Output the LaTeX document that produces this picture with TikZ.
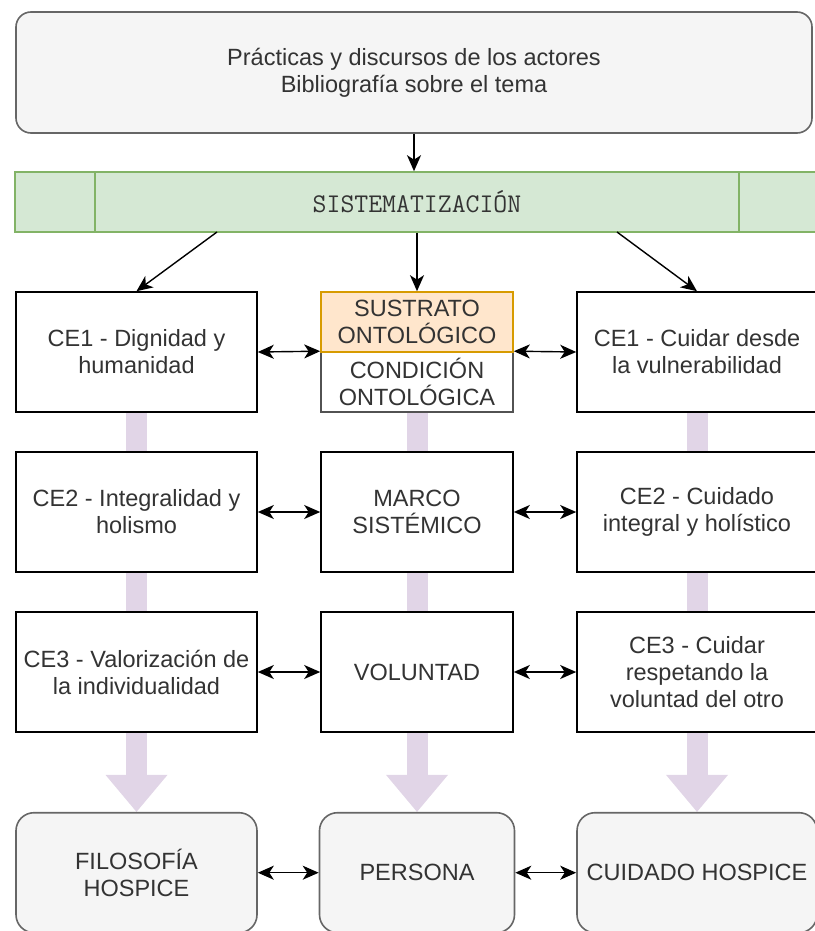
\documentclass[tikz,border=0pt]{standalone}
\usepackage{fontspec}
\setmainfont{Liberation Sans}
\usetikzlibrary{arrows.meta}
\pgfdeclarelayer{background}
\pgfsetlayers{background,main}
\definecolor{txt}{HTML}{333333}
\definecolor{softfill}{HTML}{F5F5F5}
\definecolor{softline}{HTML}{666666}
\definecolor{barfill}{HTML}{D5E8D4}
\definecolor{barline}{HTML}{82B366}
\definecolor{orfill}{HTML}{FFE6CC}
\definecolor{orline}{HTML}{D79B00}
\definecolor{lilac}{HTML}{E1D5E7}
\begin{document}
\begin{tikzpicture}[x=1pt,y=-1pt,
  every node/.style={font=\fontsize{23.5}{27}\selectfont, text=txt, align=center, inner sep=0pt},
  plain/.style={draw=black, fill=white, line width=1.6pt, minimum height=120pt},
  soft/.style={draw=softline, fill=softfill, line width=1.6pt, rounded corners=18pt, minimum height=120pt},
  link/.style={-{Stealth[length=16pt,width=14pt,inset=4.5pt]}, line width=1.4pt},
  both/.style={{Stealth[length=16pt,width=14pt,inset=4.5pt]}-{Stealth[length=16pt,width=14pt,inset=4.5pt]}, line width=1.4pt},
  flow/.style={draw=lilac, line width=21pt, -{Triangle[length=37pt,width=62pt,line width=0pt]}}
]
\useasboundingbox (0,0) rectangle (814,931);

% source box and the systematisation bar
\node[soft, rounded corners=15pt, minimum width=796pt, minimum height=121pt] (src) at (414,72.5)
  {Prácticas y discursos de los actores\\Bibliografía sobre el tema};
\node[draw=barline, fill=barfill, line width=1.6pt, minimum width=804pt, minimum height=60pt,
  font=\ttfamily\fontsize{27}{27}\selectfont] (sys) at (417,202) {SISTEMATIZACIÓN};
\draw[barline, line width=1.6pt] ([xshift=81pt]sys.north west) -- ([xshift=81pt]sys.south west);
\draw[barline, line width=1.6pt] ([xshift=-81pt]sys.north east) -- ([xshift=-81pt]sys.south east);

% left column
\node[plain, minimum width=241pt] (L1) at (136.5,352) {CE1 - Dignidad y\\humanidad};
\node[plain, minimum width=241pt] (L2) at (136.5,512) {CE2 - Integralidad y\\holismo};
\node[plain, minimum width=241pt] (L3) at (136.5,672) {CE3 - Valorización de\\la individualidad};
\node[soft, minimum width=241pt] (Lb) at (136.5,872.7) {FILOSOFÍA\\HOSPICE};

% middle column
\node[draw=txt!85, fill=white, line width=1.6pt, minimum width=192pt, minimum height=60pt] (cond) at (417,382)
  {CONDICIÓN\\ONTOLÓGICA};
\node[draw=orline, fill=orfill, line width=1.6pt, minimum width=192pt, minimum height=60pt] (sub) at (417,322)
  {SUSTRATO\\ONTOLÓGICO};
\node[plain, minimum width=192pt] (mar) at (417,512) {MARCO\\SISTÉMICO};
\node[plain, minimum width=192pt] (vol) at (417,672) {VOLUNTAD};
\node[soft, minimum width=195pt] (per) at (417,872.7) {PERSONA};

% right column
\node[plain, minimum width=240pt] (R1) at (697,352) {CE1 - Cuidar desde\\la vulnerabilidad};
\node[plain, minimum width=240pt] (R2) at (697,512) {CE2 - Cuidado\\integral y holístico};
\node[plain, minimum width=240pt] (R3) at (697,672) {CE3 - Cuidar\\respetando la\\voluntad del otro};
\node[soft, minimum width=240pt] (Rb) at (697,872.7) {CUIDADO HOSPICE};

% broad arrows running down each column, behind the boxes
\begin{pgfonlayer}{background}
  \draw[flow] (L1.south) -- (Lb.north);
  \draw[flow] (cond.south) -- (per.north);
  \draw[flow] (R1.south) -- (Rb.north);
\end{pgfonlayer}

% connectors
\coordinate (sysL) at (217,232);
\coordinate (sysR) at (617,232);
\draw[link] (src.south) -- (src.south |- sys.north);
\draw[link] (sysL) -- (L1.north);
\draw[link] (sys.south) -- (sub.north);
\draw[link] (sysR) -- (R1.north);

\draw[both] (L1.east) -- (cond.north west);
\draw[both] (cond.north east) -- (R1.west);
\draw[both] (L2.east) -- (mar.west);
\draw[both] (mar.east) -- (R2.west);
\draw[both] (L3.east) -- (vol.west);
\draw[both] (vol.east) -- (R3.west);
\draw[both] (Lb.east) -- (per.west);
\draw[both] (per.east) -- (Rb.west);
\end{tikzpicture}
\end{document}
